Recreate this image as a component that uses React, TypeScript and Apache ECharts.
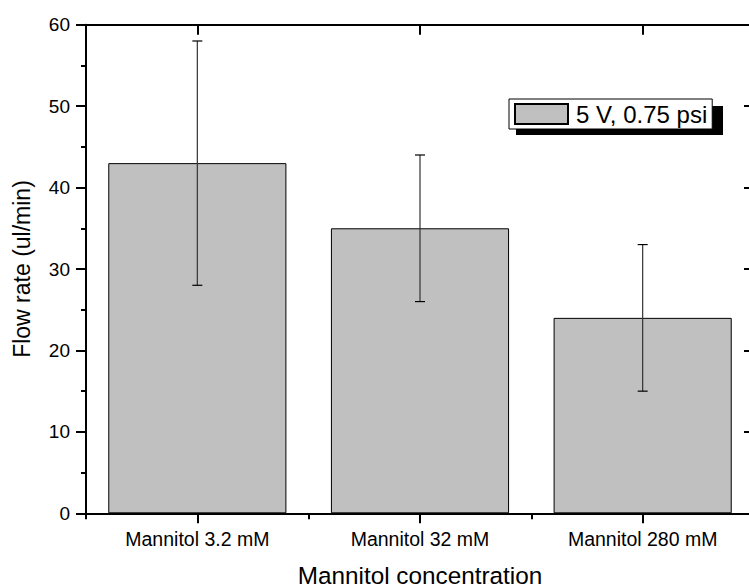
import React, { useEffect, useRef } from "react";
import * as echarts from "echarts";

const categories = ["Mannitol 3.2 mM", "Mannitol 32 mM", "Mannitol 280 mM"];
const flowRates = [43, 35, 24];
const errorLow = [28, 26, 15];
const errorHigh = [58, 44, 33];
const seriesName = "5 V, 0.75 psi";
const yTicks = { min: 0, max: 60, interval: 10 };

const FONT = "'Liberation Sans', Arial, sans-serif";

export default function App() {
  const ref = useRef<HTMLDivElement>(null);
  useEffect(() => {
    document.body.style.margin = "0";
    const chart = echarts.init(ref.current!, null, { renderer: "svg" });
    const axisLine = { show: true, lineStyle: { color: "#000", width: 2 } };
    const errData = categories.map((_, i) => [i, errorLow[i], errorHigh[i]]);
    chart.setOption({
      animation: false,
      backgroundColor: "#fff",
      textStyle: { fontFamily: FONT, color: "#000" },
      grid: { left: 86, top: 24.7, width: 668, height: 488.6, outerBoundsMode: "none", containLabel: false },
      legend: {
        data: [{ name: seriesName, icon: "rect" }],
        left: 509,
        top: 99,
        selectedMode: false,
        backgroundColor: "#fff",
        borderColor: "#000",
        borderWidth: 1,
        padding: [3, 5, 3, 5],
        itemWidth: 53,
        itemHeight: 20,
        z: 10,
        textStyle: { fontSize: 24, color: "#000", fontFamily: FONT, padding: [0, 0, 0, 3] },
      },
      graphic: [
        {
          type: "rect",
          z: 5,
          shape: { x: 516, y: 106, width: 207, height: 29 },
          style: { fill: "#000" },
        },
      ],
      xAxis: [
        {
          type: "category",
          data: categories,
          position: "bottom",
          axisLine,
          axisTick: { show: true, alignWithLabel: true, length: 10, lineStyle: { color: "#000", width: 2 } },
          axisLabel: { color: "#000", fontSize: 19.5, fontFamily: FONT, margin: 16 },
          name: "Mannitol concentration",
          nameLocation: "middle",
          nameGap: 50,
          nameTextStyle: { fontSize: 24.3, color: "#000", fontFamily: FONT },
        },
        {
          type: "category",
          data: categories,
          position: "bottom",
          axisLine: { show: false },
          axisTick: { show: true, length: 6, lineStyle: { color: "#000", width: 2 } },
          axisLabel: { show: false },
        },
        {
          type: "category",
          data: categories,
          position: "top",
          axisLine,
          axisTick: { show: true, inside: true, alignWithLabel: true, length: 10, lineStyle: { color: "#000", width: 2 } },
          axisLabel: { show: false },
        },
      ],
      yAxis: [
        {
          type: "value",
          min: yTicks.min,
          max: yTicks.max,
          interval: yTicks.interval,
          position: "left",
          axisLine,
          axisTick: { show: true, length: 10, lineStyle: { color: "#000", width: 2 } },
          minorTick: { show: true, splitNumber: 2, length: 5, lineStyle: { color: "#000", width: 2 } },
          splitLine: { show: false },
          axisLabel: { color: "#000", fontSize: 19, fontFamily: FONT, margin: 16 },
          name: "Flow rate (ul/min)",
          nameLocation: "middle",
          nameGap: 53,
          nameTextStyle: { fontSize: 23, color: "#000", fontFamily: FONT },
        },
        {
          type: "value",
          min: yTicks.min,
          max: yTicks.max,
          interval: yTicks.interval,
          position: "right",
          axisLine,
          axisTick: { show: true, inside: true, length: 10, lineStyle: { color: "#000", width: 2 } },
          minorTick: { show: true, splitNumber: 2, length: 5, lineStyle: { color: "#000", width: 2 } },
          splitLine: { show: false },
          axisLabel: { show: false },
        },
      ],
      series: [
        {
          name: seriesName,
          type: "bar",
          data: flowRates,
          barWidth: "80%",
          itemStyle: { color: "#c0c0c0", borderColor: "#000", borderWidth: 1 },
          z: 2,
        },
        {
          name: "error",
          type: "custom",
          data: errData,
          z: 3,
          renderItem: (params: any, api: any) => {
            const x = api.value(0);
            const lo = api.coord([x, api.value(1)]);
            const hi = api.coord([x, api.value(2)]);
            const hw = 5;
            const style = { stroke: "#333", lineWidth: 1.2 };
            const cap = { stroke: "#000", lineWidth: 1.2 };
            return {
              type: "group",
              children: [
                { type: "line", shape: { x1: hi[0], y1: hi[1], x2: lo[0], y2: lo[1] }, style },
                { type: "line", shape: { x1: hi[0] - hw, y1: hi[1], x2: hi[0] + hw, y2: hi[1] }, style: cap },
                { type: "line", shape: { x1: lo[0] - hw, y1: lo[1], x2: lo[0] + hw, y2: lo[1] }, style: cap },
              ],
            };
          },
        },
      ],
    });
    return () => chart.dispose();
  }, []);
  return (
    <div
      ref={ref}
      style={{ position: "fixed", left: 0, top: 0, width: 749, height: 588 }}
    />
  );
}
